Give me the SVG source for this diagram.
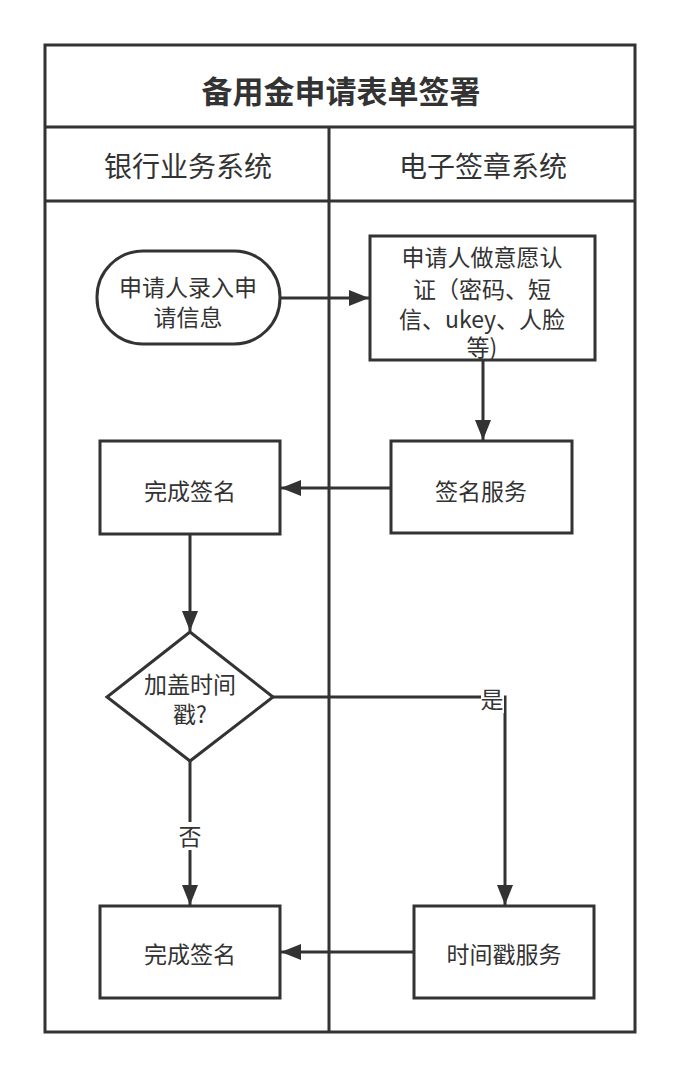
<svg xmlns="http://www.w3.org/2000/svg" width="682" height="1079" viewBox="0 0 682 1079">
<style>
.s{fill:#fff;stroke:#333;stroke-width:3}
.t{font-family:"Noto Sans CJK SC","Liberation Sans",sans-serif;font-size:23px;fill:#333;text-anchor:middle}
.h{font-size:28px}
.ti{font-size:31px;font-weight:bold}
.c{fill:none;stroke:#333;stroke-width:3}
</style>
<defs>
<marker id="a" viewBox="0 0 20 16" refX="20" refY="8" markerWidth="20" markerHeight="16" markerUnits="userSpaceOnUse" orient="auto">
<path d="M0,0L20,8L0,16Z" fill="#333"/>
</marker>
</defs>
<rect width="682" height="1079" fill="#fff"/>
<g id="pool">
<rect class="s" x="45" y="45" width="590" height="987"/>
<line class="c" x1="45" y1="127" x2="635" y2="127"/>
<line class="c" x1="45" y1="201" x2="635" y2="201"/>
<line class="c" x1="329" y1="127" x2="329" y2="1032"/>
<text class="t ti" x="341" y="103">备用金申请表单签署</text>
<text class="t h" x="188" y="177">银行业务系统</text>
<text class="t h" x="483" y="177">电子签章系统</text>
</g>
<g id="connectors">
<line class="c" x1="280" y1="298" x2="369" y2="298" marker-end="url(#a)"/>
<line class="c" x1="483" y1="360" x2="483" y2="440" marker-end="url(#a)"/>
<line class="c" x1="391" y1="488" x2="281" y2="488" marker-end="url(#a)"/>
<line class="c" x1="190" y1="534" x2="190" y2="631" marker-end="url(#a)"/>
<polyline class="c" points="273,697 505,697 505,905" marker-end="url(#a)"/>
<line class="c" x1="190" y1="761" x2="190" y2="905" marker-end="url(#a)"/>
<line class="c" x1="414" y1="952" x2="281" y2="952" marker-end="url(#a)"/>
<rect x="481" y="688" width="23" height="25" fill="#fff"/>
<text class="t" x="492" y="708">是</text>
<rect x="177" y="822" width="26" height="28" fill="#fff"/>
<text class="t" x="190" y="845">否</text>
</g>
<g id="n1">
<rect class="s" x="97" y="251" width="183" height="93" rx="46"/>
<text class="t" x="188" y="296">申请人录入申</text>
<text class="t" x="188" y="326">请信息</text>
</g>
<g id="n2">
<rect class="s" x="370" y="236" width="225" height="124"/>
<text class="t" x="482" y="266">申请人做意愿认</text>
<text class="t" x="482" y="298">证（密码、短</text>
<text class="t" x="482" y="328">信、ukey、人脸</text>
<text class="t" x="482" y="356">等)</text>
</g>
<g id="n3">
<rect class="s" x="391" y="441" width="181" height="92"/>
<text class="t" x="481" y="500">签名服务</text>
</g>
<g id="n4">
<rect class="s" x="100" y="441" width="180" height="93"/>
<text class="t" x="190" y="500">完成签名</text>
</g>
<g id="n5">
<polygon class="s" points="190,632 273,697 190,761 107,697"/>
<text class="t" x="190" y="693">加盖时间</text>
<text class="t" x="190" y="723">戳?</text>
</g>
<g id="n6">
<rect class="s" x="100" y="906" width="180" height="92"/>
<text class="t" x="190" y="963">完成签名</text>
</g>
<g id="n7">
<rect class="s" x="414" y="906" width="180" height="92"/>
<text class="t" x="504" y="963">时间戳服务</text>
</g>
</svg>
